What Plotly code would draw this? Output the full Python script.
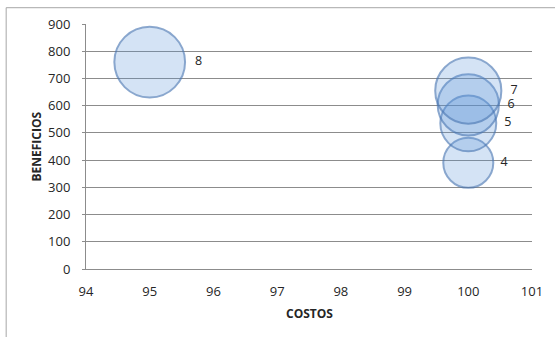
import plotly.graph_objects as go

# Bubble data: cost (x), profit (y), and bubble size (also used as label)
costos = [100, 100, 100, 100, 95]
beneficios = [390, 535, 603, 655, 760]
tamanos = [4, 5, 6, 7, 8]

x_ticks = [94, 95, 96, 97, 98, 99, 100, 101]
y_ticks = [0, 100, 200, 300, 400, 500, 600, 700, 800, 900]

FONT = "Open Sans"
GRID = "#8c8c8c"

fig = go.Figure()
fig.add_trace(go.Scatter(
    x=costos,
    y=beneficios,
    mode="markers+text",
    text=[str(s) for s in tamanos],
    textposition="middle right",
    textfont=dict(family=FONT, size=12.5, color="#262626"),
    marker=dict(
        size=tamanos,
        sizemode="area",
        sizeref=0.0032,
        color="rgba(89,146,215,0.36)",
        line=dict(color="rgba(72,118,178,0.9)", width=2),
    ),
    cliponaxis=False,
    hoverinfo="skip",
    showlegend=False,
))

fig.update_layout(
    width=555,
    height=337,
    margin=dict(l=86, r=23, t=24, b=68),
    paper_bgcolor="white",
    plot_bgcolor="white",
    font=dict(family=FONT, size=13, color="#262626"),
    xaxis=dict(
        range=[94, 101],
        tickvals=x_ticks,
        ticktext=[str(v) for v in x_ticks],
        showgrid=False,
        zeroline=False,
        showline=True,
        linecolor=GRID,
        linewidth=1,
        ticks="",
        ticklabelstandoff=10,
        tickfont=dict(family=FONT, size=13, color="#262626"),
        fixedrange=True,
    ),
    yaxis=dict(
        range=[0, 900],
        tickvals=y_ticks,
        ticktext=[str(v) for v in y_ticks],
        showgrid=True,
        gridcolor=GRID,
        gridwidth=1,
        zeroline=False,
        showline=True,
        linecolor=GRID,
        linewidth=1,
        ticks="outside",
        ticklen=3,
        tickcolor=GRID,
        ticklabelstandoff=9,
        tickfont=dict(family=FONT, size=13, color="#262626"),
        fixedrange=True,
    ),
    shapes=[
        # outer chart frame (runs off the right and bottom of the page)
        dict(type="rect", xref="paper", yref="paper",
             x0=-0.179, x1=1.3, y0=-0.5, y1=1.0665,
             line=dict(color="#a6a6a6", width=1), fillcolor="rgba(0,0,0,0)",
             layer="below"),
    ],
    annotations=[
        dict(text="<b>COSTOS</b>", xref="paper", yref="paper",
             x=0.5, y=0, yshift=-44, showarrow=False,
             xanchor="center", yanchor="middle",
             font=dict(family=FONT, size=12, color="#262626")),
        dict(text="<b>BENEFICIOS</b>", xref="paper", yref="paper",
             x=0, xshift=-50, y=0.5, showarrow=False, textangle=-90,
             xanchor="center", yanchor="middle",
             font=dict(family=FONT, size=12, color="#262626")),
    ],
)

fig.write_html("out.html")
